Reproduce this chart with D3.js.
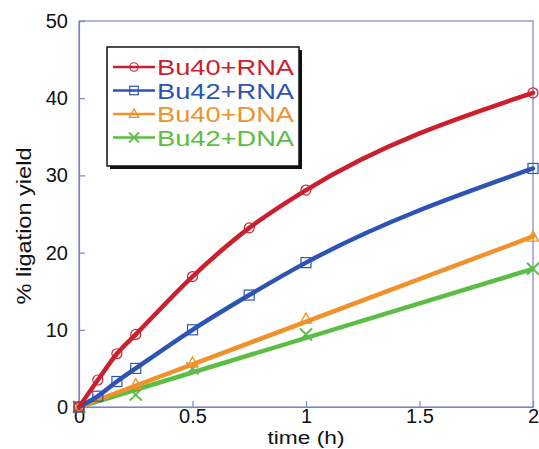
<!DOCTYPE html>
<html>
<head>
<meta charset="utf-8">
<script src="https://cdn.jsdelivr.net/npm/d3@7"></script>
<style>
  body { margin: 0; background: #fff; }
  text { font-family: "Liberation Sans", Arial, sans-serif; }
</style>
</head>
<body>
<svg id="chart" width="539" height="449"></svg>
<script>
// data
var names = ["Bu40+RNA", "Bu42+RNA", "Bu40+DNA", "Bu42+DNA"];
var colors = ["#cc1f2e", "#2d54b4", "#ef922c", "#5cbd45"];
var symbols = ["circle", "square", "triangle", "cross"];

var tRNA = [0, 0.083, 0.167, 0.25, 0.5, 0.75, 1, 2];
var bu40RNA = [0, 3.5, 6.9, 9.4, 16.9, 23.2, 28.1, 40.7];
var bu42RNA = [0, 1.4, 3.3, 5.0, 10.0, 14.5, 18.7, 30.9];
var tDNA = [0, 0.25, 0.5, 1, 2];
var bu40DNA = [0, 2.9, 5.7, 11.4, 22.0];
var bu42DNA = [0, 1.6, 5.0, 9.4, 17.9];

// straight fit lines drawn through the DNA points
var tFit = [0, 2];
var bu40DNAFit = [0, 22.1];
var bu42DNAFit = [0, 17.9];

var xTicks = [0, 0.5, 1, 1.5, 2];
var yTicks = [0, 10, 20, 30, 40, 50];

var series = [
  {t: tRNA, v: bu40RNA, lt: tRNA, lv: bu40RNA},
  {t: tRNA, v: bu42RNA, lt: tRNA, lv: bu42RNA},
  {t: tDNA, v: bu40DNA, lt: tFit, lv: bu40DNAFit},
  {t: tDNA, v: bu42DNA, lt: tFit, lv: bu42DNAFit}
];

// set the dimensions and margins of the graph
var margin = {top: 21, right: 6, bottom: 42, left: 79},
    width = 539 - margin.left - margin.right,
    height = 449 - margin.top - margin.bottom;

var axisColor = "#7b84c9";

var x = d3.scaleLinear().domain([0, 2]).range([0, width]);
var y = d3.scaleLinear().domain([0, 50]).range([height, 0]);

var svg = d3.select("#chart").append("g")
    .attr("transform", "translate(" + margin.left + "," + margin.top + ")");

// frame
svg.append("rect")
    .attr("width", width).attr("height", height)
    .attr("fill", "none").attr("stroke", axisColor).attr("stroke-width", 1.2);

// axes with ticks pointing inside
var yAxis = svg.append("g")
    .call(d3.axisLeft(y).tickValues(yTicks).tickSizeInner(-6).tickSizeOuter(0).tickPadding(11));
var xAxis = svg.append("g")
    .attr("transform", "translate(0," + height + ")")
    .call(d3.axisBottom(x).tickValues(xTicks).tickFormat(d3.format("")).tickSizeInner(-6).tickSizeOuter(0).tickPadding(2));

[xAxis, yAxis].forEach(function (a) {
  a.select(".domain").attr("stroke", axisColor).attr("stroke-width", 1.2);
  a.selectAll(".tick line").attr("stroke", axisColor).attr("stroke-width", 1.2);
  a.selectAll(".tick text").attr("fill", "#111").style("font-size", "20px")
      .style("font-family", "Liberation Sans, Arial, sans-serif");
});

// axis titles
svg.append("text")
    .attr("x", x(1)).attr("y", 444 - margin.top)
    .attr("text-anchor", "middle").attr("fill", "#111")
    .attr("textLength", 77).attr("lengthAdjust", "spacingAndGlyphs")
    .style("font-size", "18px").text("time (h)");
svg.append("text")
    .attr("transform", "translate(" + (31 - margin.left) + "," + (226 - margin.top) + ") rotate(-90)")
    .attr("text-anchor", "middle").attr("fill", "#111")
    .attr("textLength", 157).attr("lengthAdjust", "spacingAndGlyphs")
    .style("font-size", "21px").text("% ligation yield");

var line = d3.line()
    .x(function (d) { return x(d[0]); })
    .y(function (d) { return y(d[1]); })
    .curve(d3.curveMonotoneX);

function drawMarker(g, kind, cx, cy, col, s) {
  s = s || 1;
  if (kind === "circle") {
    g.append("circle").attr("cx", cx).attr("cy", cy).attr("r", 5 * s)
        .attr("fill", "none").attr("stroke", col).attr("stroke-width", 1.2);
  } else if (kind === "square") {
    g.append("rect").attr("x", cx - 5 * s).attr("y", cy - 5 * s).attr("width", 10 * s).attr("height", 10 * s)
        .attr("fill", "none").attr("stroke", col).attr("stroke-width", 1.2);
  } else if (kind === "triangle") {
    g.append("path")
        .attr("d", "M" + cx + "," + (cy - 6 * s) + "L" + (cx + 5.5 * s) + "," + (cy + 4 * s) + "L" + (cx - 5.5 * s) + "," + (cy + 4 * s) + "Z")
        .attr("fill", "none").attr("stroke", col).attr("stroke-width", 1.4);
  } else {
    g.append("path")
        .attr("d", "M" + (cx - 6 * s) + "," + (cy - 6 * s) + "L" + (cx + 6 * s) + "," + (cy + 6 * s) +
                   "M" + (cx + 6 * s) + "," + (cy - 6 * s) + "L" + (cx - 6 * s) + "," + (cy + 6 * s))
        .attr("fill", "none").attr("stroke", col).attr("stroke-width", 2);
  }
}

// lines (drawn bottom series first)
for (var i = series.length - 1; i >= 0; i--) {
  var s = series[i];
  var lpts = s.lt.map(function (t, j) { return [t, s.lv[j]]; });
  svg.append("path").datum(lpts)
      .attr("d", line)
      .attr("fill", "none").attr("stroke", colors[i]).attr("stroke-width", 4.5)
      .attr("stroke-linecap", "round");
  var mg = svg.append("g");
  s.t.forEach(function (t, j) { drawMarker(mg, symbols[i], x(t), y(s.v[j]), colors[i]); });
}

// legend
var lg = d3.select("#chart").append("g").attr("transform", "translate(107,47)");
lg.append("rect").attr("x", 3).attr("y", 3).attr("width", 192).attr("height", 119).attr("fill", "#111");
lg.append("rect").attr("x", 0).attr("y", 0).attr("width", 192).attr("height", 119)
    .attr("fill", "#fff").attr("stroke", "#111").attr("stroke-width", 1.5);
names.forEach(function (n, i) {
  var cy = 20 + i * 23.5;
  lg.append("line").attr("x1", 6).attr("x2", 48).attr("y1", cy).attr("y2", cy)
      .attr("stroke", colors[i]).attr("stroke-width", 2.5);
  drawMarker(lg, symbols[i], 27, cy, colors[i], 0.85);
  lg.append("text").attr("x", 50).attr("y", cy + 8)
      .attr("fill", colors[i]).style("font-size", "22px")
      .attr("textLength", 137).attr("lengthAdjust", "spacingAndGlyphs")
      .text(n);
});
</script>
</body>
</html>
